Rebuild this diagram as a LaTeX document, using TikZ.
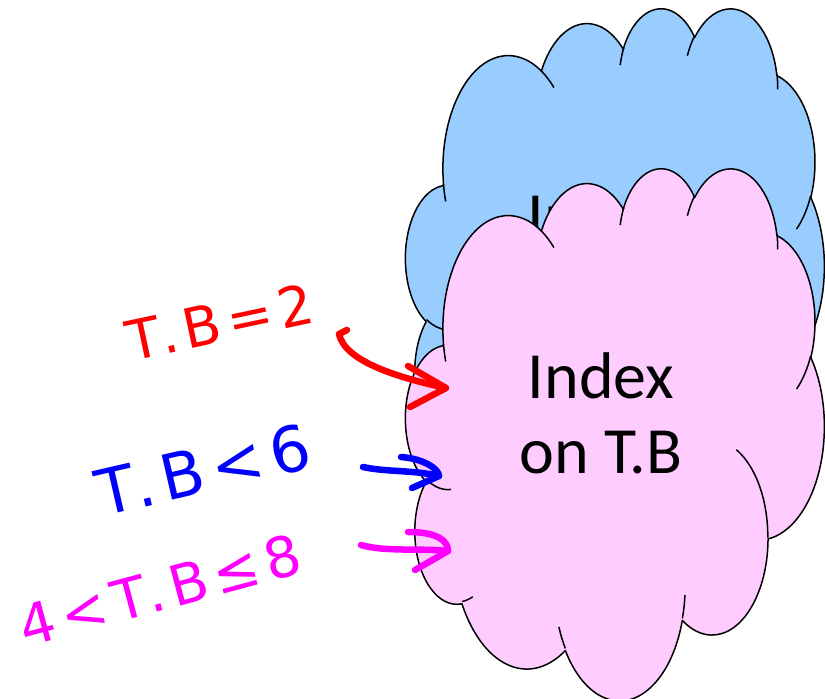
\documentclass[tikz,border=0pt]{standalone}
\usepackage{fontspec}
\setmainfont{Carlito}
\newfontfamily\handfont[LetterSpace=12]{DejaVu Sans}
\definecolor{cloudblue}{RGB}{153,204,255}
\definecolor{cloudpink}{RGB}{255,204,255}
\definecolor{inkred}{RGB}{255,0,0}
\definecolor{inkblue}{RGB}{0,0,255}
\definecolor{inkmag}{RGB}{255,0,255}
% elliptic arc with OOXML-style (visual) angles: {wR}{hR}{stAng}{swAng}
\newcommand\carc[4]{arc[start angle={vp(#3,#1,#2)}, delta angle={sw(#3,#4,#1,#2)}, x radius=#1, y radius=#2]}
\newcommand\cloudoutline{(39.00,143.70)
  \carc{67.53}{91.90}{-190.4875}{123.7805}
  \carc{53.33}{72.67}{-144.1024}{89.9452}
  \carc{43.65}{59.45}{-145.8079}{99.7230}
  \carc{48.57}{65.95}{-130.9861}{117.2417}
  \carc{53.33}{72.73}{-78.7089}{109.0269}
  \carc{67.75}{92.20}{-46.2673}{130.2690}
  \carc{57.85}{78.67}{0.6250}{114.0333}
  \carc{67.52}{92.15}{22.4516}{115.1726}
  \carc{77.20}{105.43}{66.2426}{75.7110}
  \carc{43.60}{59.18}{-274.9421}{146.7356}
  \carc{43.45}{59.45}{-246.8285}{152.5189}
  -- cycle}
\newcommand\cloudinner{%
  (46.93,261.77) \carc{43.45}{59.45}{86.742}{26.4295}
  (69.28,348.99) \carc{43.60}{59.18}{73.6105}{11.4475}
  (164.78,390.90) \carc{67.52}{92.15}{137.6242}{14.0811}
  (288.27,347.51) \carc{67.52}{92.15}{6.4533}{15.9984}
  (341.29,229.54) \carc{57.85}{78.67}{-70.2924}{70.9174}
  (417.98,153.54) \carc{53.33}{72.73}{30.3180}{27.7515}
  (383.24,54.26) \carc{48.57}{65.95}{-13.7443}{14.8502}
  (290.78,39.52) \carc{48.57}{65.95}{-149.1815}{18.1954}
  (221.41,47.20) \carc{43.65}{59.45}{-163.4943}{17.6864}
  (140.00,51.92) \carc{67.53}{91.90}{-66.7070}{12.3194}
  (41.27,157.89) \carc{67.53}{91.90}{157.6544}{11.8582}}
\begin{document}
\begin{tikzpicture}[x=1pt,y=-1pt,
  declare function={vp(\a,\rx,\ry)=atan2(\rx*sin(\a),\ry*cos(\a));
    sw(\a,\b,\rx,\ry)=mod(vp(\a+\b,\rx,\ry)-vp(\a,\rx,\ry)+720,360);},
  cloudline/.style={draw=black, line width=1.5pt, line join=round},
  cloudtext/.style={font=\fontsize{66}{70}\selectfont, text=black, anchor=base, inner sep=0pt},
  ink/.style={line width=6.5pt, line cap=round, line join=round},
  hand/.style={inner sep=0pt, font=\handfont\fontsize{#1}{#1}\selectfont},
]
\useasboundingbox (0,0) rectangle (825,699);
% back cloud
\begin{scope}[shift={(405.7,7)}, xscale=0.96875, yscale=1.2315]
  \path[cloudline, fill=cloudblue] \cloudoutline;
  \path[cloudline] \cloudinner;
\end{scope}
\node[cloudtext] (bt1) at (601,238) {Index};
\node[cloudtext] (bt2) at (601,313) {on T.B};
% front cloud
\begin{scope}[shift={(405.7,167)}, xscale=0.96875, yscale=1.2315]
  \path[cloudline, fill=cloudpink] \cloudoutline;
  \path[cloudline] \cloudinner;
\end{scope}
\node[cloudtext] (pt1) at (601,398) {Index};
\node[cloudtext] (pt2) at (601,473) {on T.B};
% handwritten labels
\node[hand=55, text=inkred, rotate=12] (lr) at (220,322) {T.B=2};
\node[hand=63, text=inkblue, rotate=13] (lb) at (203,470) {T.B<6};
\node[hand=56, text=inkmag, rotate=15] (lm) at (160,590) {4<T.B≤8};
% arrows
\coordinate (rh) at (347,330);
\coordinate (r0) at (339,334);
\coordinate (r1) at (446,388);
\draw[ink, inkred] (rh) -- (r0) .. controls (345,362) and (400,378) .. (r1);
\draw[ink, inkred] (r1) ++(-38,-22) -- (r1) -- ++(-36,19);
\coordinate (b0) at (363,467);
\coordinate (b1) at (439,476);
\draw[ink, inkblue] (b0) .. controls (385,472) and (415,470) .. (b1);
\draw[ink, inkblue] (b1) ++(-38,-19) .. controls +(25,2) and +(0,-6) .. (b1) -- ++(-27,12);
\coordinate (m0) at (361,545);
\coordinate (m1) at (448,551);
\draw[ink, inkmag] (m0) .. controls (385,552) and (420,548) .. (m1);
\draw[ink, inkmag] (m1) ++(-40,-19) .. controls +(30,0) and +(0,-10) .. (m1) -- ++(-33,19);
\end{tikzpicture}
\end{document}
